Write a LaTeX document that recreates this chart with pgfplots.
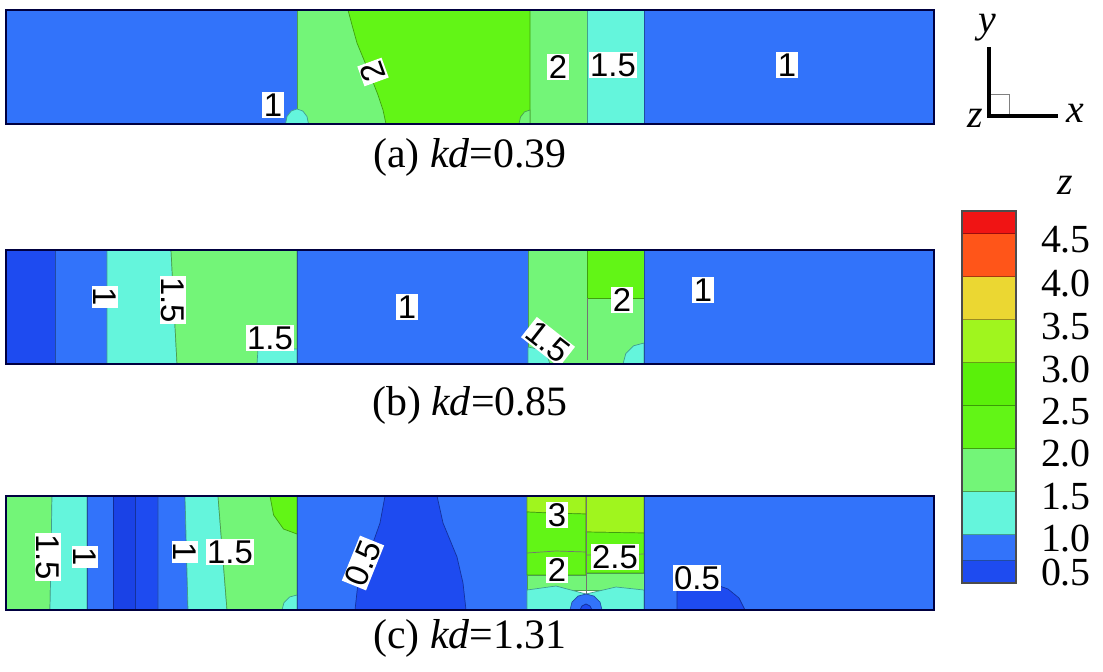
\documentclass[border=0pt]{standalone}
\usepackage{pgfplots}
\pgfplotsset{compat=1.18}
\usepackage{fontspec}
\setmainfont{Liberation Serif}
\newfontfamily\lab{Liberation Sans}

\definecolor{cDD}{HTML}{1A42E6}
\definecolor{cDB}{HTML}{1E4BF0}
\definecolor{cB}{HTML}{3273FA}
\definecolor{cC}{HTML}{64F5DC}
\definecolor{cLG}{HTML}{73F578}
\definecolor{cG}{HTML}{62F516}
\definecolor{cG2}{HTML}{5AF00A}
\definecolor{cYG}{HTML}{A0F51E}
\definecolor{cY}{HTML}{EBD732}
\definecolor{cO}{HTML}{FF5519}
\definecolor{cR}{HTML}{F01414}

\pgfplotsset{
  panel/.style={scale only axis, width=464bp, height=57bp, anchor=south west,
    xmin=0, xmax=928, ymin=0, ymax=114, xtick=\empty, ytick=\empty, axis on top,
    axis line style={line width=0.6bp, draw=black!75!blue}},
  reg/.style={fill=#1, draw=#1!65!black, line width=0.35bp, no marks},
  cl/.style={draw=black!55, line width=0.35bp, no marks},
}
\tikzset{lbl/.style={fill=white, inner sep=0.7bp, font=\lab\fontsize{16.5}{16.5}\selectfont}}

\begin{document}
\begin{tikzpicture}
\path (0,0) rectangle (551.5bp,-336bp);

% (a) kd=0.39
\begin{axis}[panel, at={(3bp,-62bp)}]
\addplot[reg=cB] coordinates {(0,0)(291,0)(291,114)(0,114)} --cycle;
\addplot[reg=cLG] coordinates {(291,0)(581,0)(581,114)(291,114)} --cycle;
\addplot[reg=cG] coordinates {(342,114)(346,99)(351,81)(358,64)(365,47)(372,29)(377,14)(380,0)(524,0)(524,114)} --cycle;
\addplot[reg=cLG] coordinates {(524,0)(513,0)(514.5,7)(518.5,12.1)(524,14)} --cycle;
\addplot[reg=cC] coordinates {(581,0)(638,0)(638,114)(581,114)} --cycle;
\addplot[reg=cB] coordinates {(638,0)(928,0)(928,114)(638,114)} --cycle;
\addplot[reg=cC] coordinates {(302.5,0)(301,7.5)(296.8,13)(291,15)(285.2,13)(281,7.5)(279.5,0)} --cycle;
\node[lbl] at (axis cs:267,19) {1};
\node[lbl, rotate=110] at (axis cs:367,52) {2};
\node[lbl] at (axis cs:552,57) {2};
\node[lbl] at (axis cs:607,59) {1.5};
\node[lbl] at (axis cs:781,59) {1};
\end{axis}
\node[font=\fontsize{21}{21}\selectfont] at (235bp,-78.5bp) {(a) \textit{kd}=0.39};

% (b) kd=0.85
\begin{axis}[panel, at={(3bp,-182bp)}]
\addplot[reg=cDB] coordinates {(0,0)(49,0)(49,114)(0,114)} --cycle;
\addplot[reg=cB] coordinates {(49,0)(101,0)(101,114)(49,114)} --cycle;
\addplot[reg=cC] coordinates {(101,0)(171,0)(165,114)(101,114)} --cycle;
\addplot[reg=cLG] coordinates {(171,0)(291,0)(291,114)(165,114)} --cycle;
\addplot[reg=cC] coordinates {(251,0)(291,0)(291,15)(252,15)} --cycle;
\addplot[reg=cB] coordinates {(291,0)(522,0)(522,114)(291,114)} --cycle;
\addplot[reg=cLG] coordinates {(522,0)(638,0)(638,114)(522,114)} --cycle;
\addplot[reg=cG] coordinates {(581,66)(638,66)(638,114)(581,114)} --cycle;
\addplot[cl] coordinates {(581,4)(581,66)};
\addplot[reg=cC] coordinates {(522,0)(544,0)(541,8.5)(533,14.7)(522,17)} --cycle;
\addplot[reg=cC] coordinates {(638,0)(617,0)(619.8,10.5)(627.5,18.2)(638,21)} --cycle;
\addplot[reg=cB] coordinates {(638,0)(928,0)(928,114)(638,114)} --cycle;
\node[lbl, rotate=-90] at (axis cs:99,67) {1};
\node[lbl, rotate=-90] at (axis cs:167,64) {1.5};
\node[lbl] at (axis cs:264,26) {1.5};
\node[lbl] at (axis cs:401,57) {1};
\node[lbl, rotate=-38] at (axis cs:542,22) {1.5};
\node[lbl] at (axis cs:616,64) {2};
\node[lbl] at (axis cs:697,74) {1};
\end{axis}
\node[font=\fontsize{21}{21}\selectfont] at (235bp,-202.5bp) {(b) \textit{kd}=0.85};

% (c) kd=1.31
\begin{axis}[panel, at={(3bp,-305bp)}]
\addplot[reg=cLG] coordinates {(0,0)(44,0)(46,114)(0,114)} --cycle;
\addplot[reg=cC] coordinates {(44,0)(81,0)(81,114)(46,114)} --cycle;
\addplot[reg=cB] coordinates {(81,0)(107,0)(107,114)(81,114)} --cycle;
\addplot[reg=cDD] coordinates {(107,0)(129,0)(129,114)(107,114)} --cycle;
\addplot[reg=cDB] coordinates {(129,0)(152,0)(152,114)(129,114)} --cycle;
\addplot[reg=cB] coordinates {(152,0)(182,0)(179,114)(152,114)} --cycle;
\addplot[reg=cC] coordinates {(182,0)(221,0)(212,114)(179,114)} --cycle;
\addplot[reg=cLG] coordinates {(221,0)(291,0)(291,114)(212,114)} --cycle;
\addplot[reg=cG] coordinates {(291,114)(264,114)(267.6,95)(277.5,81)(291,76)} --cycle;
\addplot[reg=cC] coordinates {(291,0)(276,0)(278,7.5)(283.5,13)(291,15)} --cycle;
\addplot[reg=cB] coordinates {(291,0)(521,0)(521,114)(291,114)} --cycle;
\addplot[reg=cDB] coordinates {(379,114)(374,87)(362,53)(352,27)(349,0)(460,0)(457,27)(451,53)(437,87)(431,114)} --cycle;
% left column
\addplot[reg=cYG] coordinates {(521,98)(545,97)(580,96)(580,114)(521,114)} --cycle;
\addplot[reg=cG] coordinates {(521,35)(580,35)(580,96)(545,97)(521,98)} --cycle;
\addplot[cl] coordinates {(521,57)(550,59)(580,58)};
% right column
\addplot[reg=cYG] coordinates {(580,78)(638,77)(638,114)(580,114)} --cycle;
\addplot[reg=cG] coordinates {(580,37)(638,37)(638,77)(580,78)} --cycle;
\addplot[cl] coordinates {(580,55)(610,55)(638,56)};
\addplot[reg=cLG] coordinates {(521,20)(638,20)(638,37)(580,37)(580,35)(521,35)} --cycle;
\addplot[reg=cC] coordinates {(521,0)(638,0)(638,20)(610,23)(580,16)(550,24)(521,20)} --cycle;
\addplot[cl] coordinates {(580,0)(580,114)};
\addplot[reg=cB] coordinates {(596,0)(594,8)(588,13.9)(580,16)(572,13.9)(566,8)(564,0)} --cycle;
\addplot[reg=cDB] coordinates {(586,0)(584,4)(580,6)(576,4)(574,0)} --cycle;
\addplot[reg=cB] coordinates {(638,0)(928,0)(928,114)(638,114)} --cycle;
\addplot[reg=cDB] coordinates {(671,0)(671,22)(685,27)(705,27)(722,21)(733,12)(739,0)} --cycle;
\node[lbl, rotate=-90] at (axis cs:42,53) {1.5};
\node[lbl, rotate=-90] at (axis cs:79,53) {1};
\node[lbl, rotate=-90] at (axis cs:179,58) {1};
\node[lbl] at (axis cs:224,58) {1.5};
\node[lbl, rotate=68] at (axis cs:357,47) {0.5};
\node[lbl] at (axis cs:551,95) {3};
\node[lbl] at (axis cs:609,53) {2.5};
\node[lbl] at (axis cs:551,40) {2};
\node[lbl] at (axis cs:691,32) {0.5};
\end{axis}
\node[font=\fontsize{21}{21}\selectfont] at (235bp,-319bp) {(c) \textit{kd}=1.31};

% colour bar
\begin{axis}[scale only axis, width=27bp, height=186bp, at={(481bp,-291.5bp)}, anchor=south west,
  xmin=0, xmax=1, ymin=0.43, ymax=4.76, xtick=\empty,
  ytick={0.55,0.95,1.43,1.94,2.42,2.91,3.41,3.92,4.43},
  yticklabels={0.5,1.0,1.5,2.0,2.5,3.0,3.5,4.0,4.5},
  yticklabel pos=right, major tick length=0pt,
  yticklabel style={font=\fontsize{20}{20}\selectfont, anchor=west, xshift=9bp},
  axis on top, axis line style={line width=0.6bp, draw=black!70}]
\addplot[reg=cDB] coordinates {(0,0.43)(1,0.43)(1,0.69)(0,0.69)} --cycle;
\addplot[reg=cB] coordinates {(0,0.69)(1,0.69)(1,1.0)(0,1.0)} --cycle;
\addplot[reg=cC] coordinates {(0,1.0)(1,1.0)(1,1.5)(0,1.5)} --cycle;
\addplot[reg=cLG] coordinates {(0,1.5)(1,1.5)(1,2.0)(0,2.0)} --cycle;
\addplot[reg=cG] coordinates {(0,2.0)(1,2.0)(1,2.5)(0,2.5)} --cycle;
\addplot[reg=cG2] coordinates {(0,2.5)(1,2.5)(1,3.0)(0,3.0)} --cycle;
\addplot[reg=cYG] coordinates {(0,3.0)(1,3.0)(1,3.5)(0,3.5)} --cycle;
\addplot[reg=cY] coordinates {(0,3.5)(1,3.5)(1,4.0)(0,4.0)} --cycle;
\addplot[reg=cO] coordinates {(0,4.0)(1,4.0)(1,4.5)(0,4.5)} --cycle;
\addplot[reg=cR] coordinates {(0,4.5)(1,4.5)(1,4.76)(0,4.76)} --cycle;
\end{axis}
\node[font=\fontsize{20}{20}\selectfont\itshape] at (532.5bp,-92.5bp) {z};

% coordinate triad
\draw[gray, line width=0.5bp] (494.5bp,-47bp) rectangle (504.5bp,-58bp);
\draw[line width=2bp] (494.5bp,-23.5bp) -- (494.5bp,-58bp) -- (529bp,-58bp);
\node[font=\fontsize{20}{20}\selectfont\itshape] at (493.5bp,-14bp) {y};
\node[font=\fontsize{20}{20}\selectfont\itshape] at (537.5bp,-56.5bp) {x};
\node[font=\fontsize{20}{20}\selectfont\itshape] at (487.5bp,-59bp) {z};
\end{tikzpicture}
\end{document}
